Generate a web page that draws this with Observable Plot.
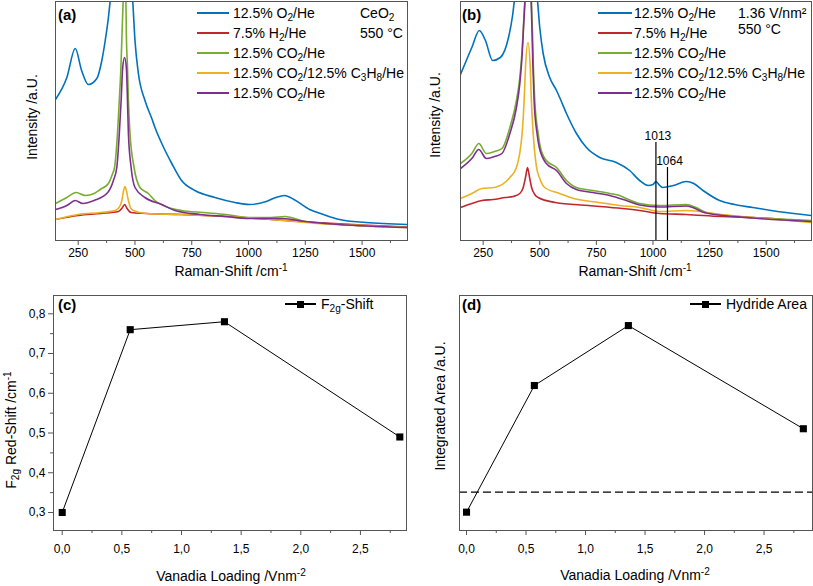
<!DOCTYPE html>
<html><head><meta charset="utf-8">
<script src="https://cdn.jsdelivr.net/npm/d3@7"></script>
<script src="https://cdn.jsdelivr.net/npm/@observablehq/plot@0.6"></script>
<style>
body{margin:0;background:#fff;font-family:Arial,"Liberation Sans",sans-serif;}
#root{position:relative;width:813px;height:586px;overflow:hidden;background:#fff;}
#root svg{position:absolute;}
.t{position:absolute;white-space:nowrap;color:#000;line-height:1;font-family:Arial,"Liberation Sans",sans-serif;}
.t sub{font-size:0.72em;vertical-align:-0.25em;line-height:0;}
.t sup{font-size:0.72em;vertical-align:0.45em;line-height:0;}
.sw{position:absolute;height:0;border-top:2px solid;}
.sq{position:absolute;width:7px;height:7px;background:#000;}
</style></head><body><div id="root"></div>
<script>
// ---------- data ----------
const seriesKeys = ["O2","H2","CO2","CO2C3H8","CO2b"];
const seriesLabels = ["12.5% O<sub>2</sub>/He","7.5% H<sub>2</sub>/He","12.5% CO<sub>2</sub>/He","12.5% CO<sub>2</sub>/12.5% C<sub>3</sub>H<sub>8</sub>/He","12.5% CO<sub>2</sub>/He"];
const seriesColors = ["#0072BD","#C0272D","#77AC30","#EDB120","#7E2F8E"];

// panel (a) CeO2, 550 °C  [Raman shift cm-1, intensity a.u.]
const specA_O2 = [[150,141],[200,163],[237,192],[265,170],[295,156],[332,162],[354,180],[369,200],[383,223],[391,240],[450,320],[490,240],[500,200],[515,167],[544,140],[574,122],[588,113],[618,97],[662,77],[705,60],[764,50],[852,43],[940,38],[1005,36],[1078,39],[1120,43],[1159,45],[1200,41],[1269,31],[1330,26],[1401,21],[1517,18],[1700,16]];
const specA_H2 = [[150,21],[250,25],[350,27],[427,29],[445,33],[455,36],[465,32],[483,28],[550,27],[700,26],[900,24],[1100,21],[1300,18],[1500,15.5],[1700,13.5]];
const specA_CO2 = [[150,37],[200,43],[241,48],[281,45],[320,47],[347,51],[383,57],[400,66],[410,73],[423,107],[431,140],[438,173],[443,207],[448,240],[453,262],[460,240],[462,207],[467,173],[471,140],[478,107],[496,73],[522,53],[559,47],[588,40],[647,33],[705,30],[800,28],[900,26],[1000,23],[1100,23],[1160,24],[1250,19],[1400,16],[1700,13]];
const specA_CO2C3H8 = [[150,21],[250,26],[350,28],[413,30],[435,35],[442,40],[450,50],[456,54],[462,50],[471,40],[480,33],[493,30],[550,27],[700,26],[900,24],[1100,21],[1300,17],[1500,15],[1700,13]];
const specA_CO2b = [[150,31],[200,35],[237,40],[270,37],[320,40],[380,48],[405,60],[420,73],[431,107],[439,140],[446,173],[454,183],[462,173],[467,140],[471,107],[483,73],[500,53],[544,43],[618,36],[676,30],[786,26],[900,24],[1000,22],[1150,22],[1250,19],[1400,16],[1700,13]];

// panel (b) 1.36 V/nm², 550 °C
const specB_O2 = [[150,166],[200,193],[233,210],[260,200],[292,180],[326,183],[362,203],[380,225],[388,240],[440,300],[490,240],[500,213],[515,187],[544,163],[574,150],[588,143],[618,127],[662,107],[706,93],[765,83],[838,78],[897,70],[941,60],[978,55],[1000,56],[1013,59],[1030,55],[1044,53],[1090,55],[1147,59],[1180,57],[1221,50],[1294,40],[1360,36],[1441,33],[1550,29],[1700,25]];
const specB_H2 = [[150,33],[200,37],[245,40],[294,41],[348,43],[383,44],[412,47],[427,53],[437,63],[446,73],[455,63],[464,53],[478,46],[493,43],[569,38],[716,35],[864,32],[941,30],[1029,27],[1147,26],[1300,24],[1441,23],[1700,19]];
const specB_CO2 = [[150,77],[200,87],[231,97],[264,87],[300,89],[333,92],[368,113],[397,140],[412,163],[422,190],[430,223],[434,240],[448,280],[463,240],[468,207],[472,173],[478,140],[493,107],[503,93],[529,80],[574,73],[618,60],[662,53],[735,50],[809,47],[853,45],[882,42],[941,37],[1029,35],[1147,36],[1190,33],[1235,28],[1441,23],[1700,20]];
const specB_CO2C3H8 = [[150,42],[200,47],[244,52],[300,53],[368,63],[397,73],[422,107],[431,140],[437,173],[448,198],[458,173],[463,140],[471,107],[486,73],[500,62],[522,53],[588,47],[650,42],[761,38],[853,35],[941,33],[1029,29],[1147,30],[1300,26],[1441,23],[1700,18]];
const specB_CO2b = [[150,72],[200,82],[231,91],[264,82],[300,84],[333,87],[368,107],[397,133],[412,157],[422,185],[430,220],[435,240],[448,280],[462,240],[466,207],[470,173],[475,140],[488,107],[498,93],[529,77],[574,70],[618,57],[662,51],[735,48],[809,45],[882,40],[941,35.5],[1029,33.5],[1147,34.5],[1235,27.5],[1441,22.5],[1700,19]];

const annotShift = [1013, 1064];
const annotTop = [98, 73];

const shiftTicks = [250,500,750,1000,1250,1500];
const shiftMinor = [375,625,875,1125,1375,1625];

// panels (c) and (d)
const loading = [0, 0.57, 1.36, 2.83];
const f2gShift = [0.30, 0.76, 0.78, 0.49];
const hydrideArea = [0.078, 0.617, 0.872, 0.433];
const hydrideBaseline = 0.163;
const loadTicks = [0,0.5,1,1.5,2,2.5];
const loadMinor = [0.25,0.75,1.25,1.75,2.25,2.75];
const f2gTicks = [0.3,0.4,0.5,0.6,0.7,0.8];
const f2gMinor = [0.35,0.45,0.55,0.65,0.75];

// ---------- helpers ----------
const root = document.getElementById("root");
const FONT = 'Arial, "Liberation Sans", sans-serif';
const FRAME = "#555";
function put(svg, left, top){ svg.style.left = left+"px"; svg.style.top = top+"px"; root.appendChild(svg); }
function txt(html, x, y, o={}){
  const d = document.createElement("div"); d.className = "t"; d.innerHTML = html;
  d.style.left = x+"px"; d.style.top = y+"px"; d.style.fontSize = (o.size||14)+"px";
  if (o.bold) d.style.fontWeight = "bold";
  let tr = o.anchor === "middle" ? "translate(-50%,-50%)" : "translate(0,-50%)";
  if (o.rotate) tr = "translate(-50%,-50%) rotate(-90deg)";
  d.style.transform = tr; root.appendChild(d); return d;
}
function swatch(x1, x2, y, color){
  const d = document.createElement("div"); d.className = "sw";
  d.style.left = x1+"px"; d.style.top = (y-1)+"px"; d.style.width = (x2-x1)+"px"; d.style.borderColor = color;
  root.appendChild(d);
}
const comma = d => d.toFixed(1).replace(".", ",");

function spectraRows(list){
  const rows = [];
  list.forEach((arr, i) => arr.forEach(([s, v]) => rows.push({shift: s, intensity: v, series: seriesKeys[i]})));
  return rows;
}

function spectrumPlot(rows, width, mLeft, mRight, extra){
  return Plot.plot({
    width, height: 290, marginLeft: mLeft, marginRight: mRight, marginTop: 1, marginBottom: 50,
    style: {fontFamily: FONT, fontSize: "12px", color: "#000", background: "transparent"},
    x: {domain: [150, 1700], label: null},
    y: {domain: [0, 239], axis: null, label: null},
    color: {domain: seriesKeys, range: seriesColors},
    marks: [
      Plot.line(rows, {x: "shift", y: "intensity", z: "series", stroke: "series", strokeWidth: 1.6, curve: "monotone-x", clip: true}),
      ...(extra || []),
      Plot.frame({stroke: FRAME, strokeWidth: 1}),
      Plot.axisX({ticks: shiftTicks, tickSize: 5, tickPadding: 3, stroke: FRAME, tickFormat: d => String(d), label: null}),
      Plot.axisX({ticks: shiftMinor, tickSize: 3, stroke: FRAME, tickFormat: () => "", label: null})
    ]
  });
}

// ---------- panel (a) ----------
const rowsA = spectraRows([specA_O2, specA_H2, specA_CO2, specA_CO2C3H8, specA_CO2b]);
put(spectrumPlot(rowsA, 410, 55, 3), 0, 0);

// ---------- panel (b) ----------
const rowsB = spectraRows([specB_O2, specB_H2, specB_CO2, specB_CO2C3H8, specB_CO2b]);
const annot = annotShift.map((s, i) => ({shift: s, top: annotTop[i]}));
put(spectrumPlot(rowsB, 408, 55, 2, [
  Plot.ruleX(annot, {x: "shift", y1: 0, y2: "top", stroke: "#000", strokeWidth: 1.2}),
  Plot.text(annot, {x: "shift", y: "top", text: d => String(d.shift), dx: 2, dy: -3, lineAnchor: "bottom", fontSize: 12, fill: "#000"})
]), 405, 0);

// ---------- panel (c) ----------
const ptsC = loading.map((l, i) => ({load: l, val: f2gShift[i]}));
put(Plot.plot({
  width: 410, height: 296, marginLeft: 53, marginRight: 4, marginTop: 5, marginBottom: 56,
  style: {fontFamily: FONT, fontSize: "12px", color: "#000", background: "transparent"},
  x: {domain: [-0.073, 2.886], label: null},
  y: {domain: [0.2547, 0.846], label: null},
  marks: [
    Plot.frame({stroke: FRAME}),
    Plot.axisX({ticks: loadTicks, tickSize: 5, tickPadding: 9, stroke: FRAME, tickFormat: comma, label: null}),
    Plot.axisX({ticks: loadMinor, tickSize: 3, stroke: FRAME, tickFormat: () => "", label: null}),
    Plot.axisY({ticks: f2gTicks, tickSize: 5, tickPadding: 3, stroke: FRAME, tickFormat: comma, label: null}),
    Plot.axisY({ticks: f2gMinor, tickSize: 3, stroke: FRAME, tickFormat: () => "", label: null}),
    Plot.line(ptsC, {x: "load", y: "val", stroke: "#000", strokeWidth: 1}),
    Plot.dot(ptsC, {x: "load", y: "val", symbol: "square", fill: "#000", r: 4})
  ]
}), 0, 290);

// ---------- panel (d) ----------
const ptsD = loading.map((l, i) => ({load: l, val: hydrideArea[i]}));
put(Plot.plot({
  width: 408, height: 296, marginLeft: 54, marginRight: 1, marginTop: 5, marginBottom: 56,
  style: {fontFamily: FONT, fontSize: "12px", color: "#000", background: "transparent"},
  x: {domain: [-0.059, 2.907], label: null},
  y: {domain: [0, 1], axis: null, label: null},
  marks: [
    Plot.ruleY([hydrideBaseline], {stroke: "#000", strokeWidth: 1.2, strokeDasharray: "8,4"}),
    Plot.frame({stroke: FRAME}),
    Plot.axisX({ticks: loadTicks, tickSize: 5, tickPadding: 9, stroke: FRAME, tickFormat: comma, label: null}),
    Plot.axisX({ticks: loadMinor, tickSize: 3, stroke: FRAME, tickFormat: () => "", label: null}),
    Plot.line(ptsD, {x: "load", y: "val", stroke: "#000", strokeWidth: 1}),
    Plot.dot(ptsD, {x: "load", y: "val", symbol: "square", fill: "#000", r: 4})
  ]
}), 405, 290);

// ---------- texts & legends ----------
// panel labels
txt("(a)", 58, 14, {size: 15, bold: true});
txt("(b)", 462, 14, {size: 15, bold: true});
txt("(c)", 58, 304, {size: 15, bold: true});
txt("(d)", 462, 304, {size: 15, bold: true});

// axis titles
txt("Raman-Shift /cm<sup>-1</sup>", 231, 271, {anchor: "middle"});
txt("Raman-Shift /cm<sup>-1</sup>", 635, 271, {anchor: "middle"});
txt("Intensity /a.U.", 32, 117, {rotate: true});
txt("Intensity /a.U.", 435, 115, {rotate: true});
txt("Vanadia Loading /Vnm<sup>-2</sup>", 231, 576, {anchor: "middle"});
txt("Vanadia Loading /Vnm<sup>-2</sup>", 635, 575, {anchor: "middle"});
txt("F<sub>2g</sub> Red-Shift /cm<sup>-1</sup>", 11, 430, {rotate: true});
txt("Integrated Area /a.U.", 440, 406, {rotate: true});

// spectra legends
seriesLabels.forEach((lab, i) => {
  const y = 13 + i * 20;
  swatch(197, 229, y, seriesColors[i]); txt(lab, 233, y);
  swatch(598, 632, y, seriesColors[i]); txt(lab, 634, y);
});
txt("CeO<sub>2</sub>", 360, 13);
txt("550 °C", 360, 33);
txt("1.36 V/nm²", 738, 13);
txt("550 °C", 738, 29);

// (c), (d) legends
function markerLegend(x1, x2, y, label){
  swatch(x1, x2, y, "#000");
  const s = document.createElement("div"); s.className = "sq";
  s.style.left = ((x1 + x2) / 2 - 3.5) + "px"; s.style.top = (y - 3.5) + "px"; root.appendChild(s);
  txt(label, x2 + 5, y);
}
markerLegend(285, 316, 304, "F<sub>2g</sub>-Shift");
markerLegend(690, 721, 304, "Hydride Area");
</script></body></html>
